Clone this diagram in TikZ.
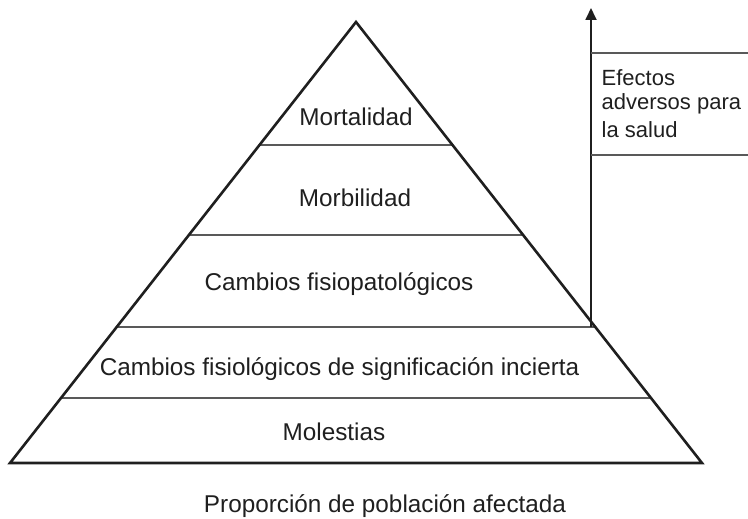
\documentclass[tikz,border=0pt]{standalone}
\usepackage{fontspec}
\setmainfont{Liberation Sans}
\usetikzlibrary{arrows.meta,calc}
\definecolor{ink}{gray}{0.12}
\definecolor{rule}{gray}{0.35}
\tikzset{
  outline/.style={draw=ink, line width=2.6pt, line join=miter},
  level/.style={draw=rule, line width=1.6pt},
  lbl/.style={anchor=base, inner sep=0pt, font=\fontsize{24.3}{28}\selectfont, text=ink},
  side/.style={anchor=base west, inner sep=0pt, font=\fontsize{22}{25}\selectfont, text=ink},
}
\begin{document}
\begin{tikzpicture}[x=1pt,y=-1pt]
\useasboundingbox (0,0) rectangle (748,519);
\coordinate (apex) at (356,22);
\coordinate (bl) at (10,463);
\coordinate (br) at (702,463);
% level lines (fractions of height from apex)
\foreach \n/\y in {a/145,b/235,c/327,d/398}{
  \coordinate (L\n) at ($(apex)!{(\y-22)/441}!(bl)$);
  \coordinate (R\n) at ($(apex)!{(\y-22)/441}!(br)$);
}
\draw[level] (La) -- (Ra);
\draw[level] (Lb) -- (Rb);
\draw[level] (Lc) -- (Rc);
\draw[level] (Ld) -- (Rd);
\draw[outline] (apex) -- (bl) -- (br) -- cycle;
% arrow and side box
\coordinate (arrbase) at (591,327);
\coordinate (arrtip) at (591,8);
\draw[draw=ink, line width=1.8pt, -{Triangle[width=11pt,length=12pt]}] (arrbase) -- (arrtip);
\coordinate (t1) at (591,53);
\coordinate (t2) at (748,53);
\coordinate (b1) at (591,155);
\coordinate (b2) at (748,155);
\draw[level] (t1) -- (t2);
\draw[level] (b1) -- (b2);
% labels
\node[lbl] (mort) at (356,126) {Mortalidad};
\node[lbl] (morb) at (355,206) {Morbilidad};
\node[lbl] (fpat) at (339,290) {Cambios fisiopatológicos};
\node[lbl] (fisi) at (339.5,375) {Cambios fisiológicos de significación incierta};
\node[lbl] (mole) at (334,440) {Molestias};
\node[lbl] (prop) at (385,512) {Proporción de población afectada};
\node[side] (ef1) at (601.5,85) {Efectos};
\node[side] (ef2) at (601.5,110) {adversos para};
\node[side] (ef3) at (601.5,137) {la salud};
\end{tikzpicture}
\end{document}
